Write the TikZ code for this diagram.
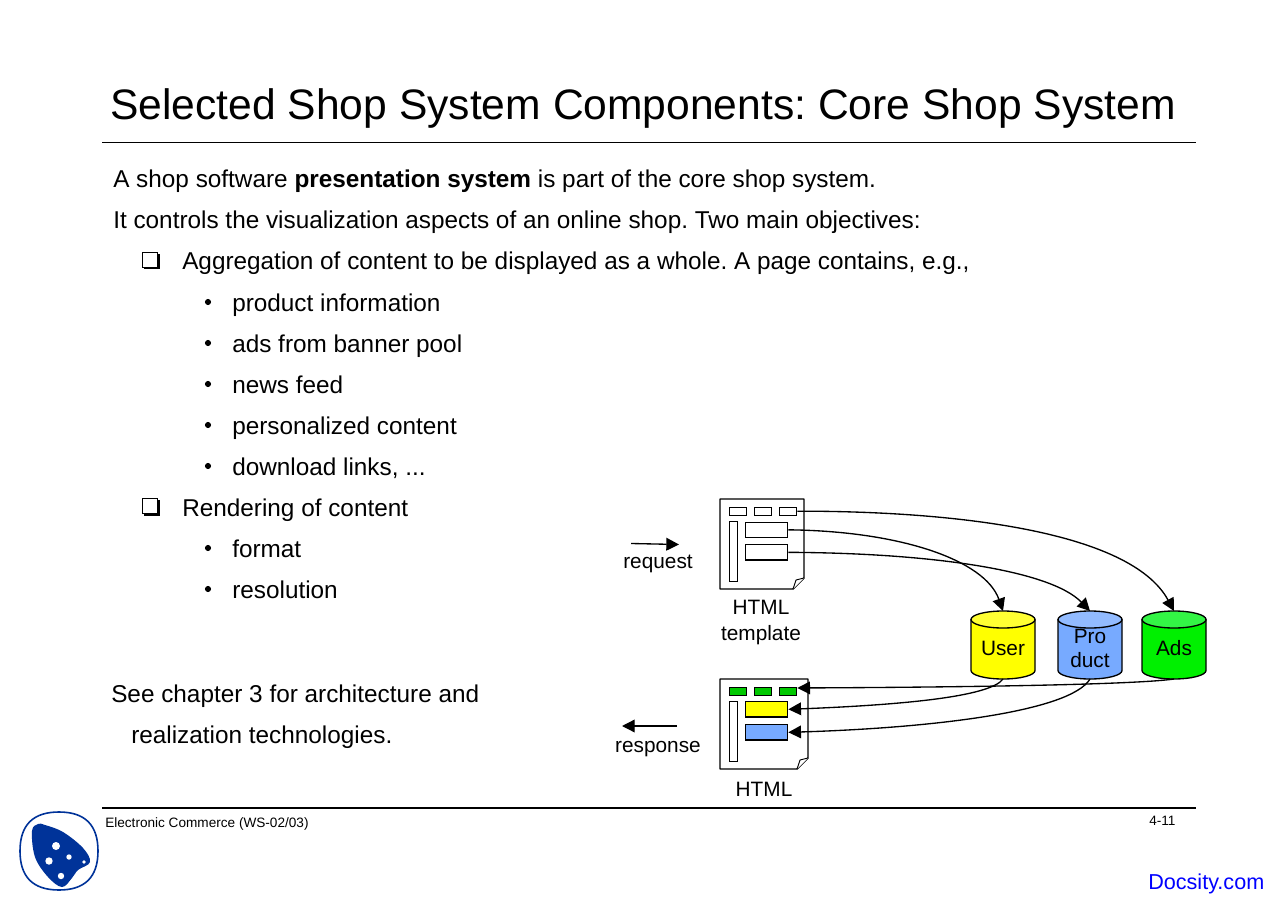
\documentclass[tikz,border=0pt]{standalone}
\usepackage{fontspec}
\setmainfont{Liberation Sans}
\usetikzlibrary{arrows.meta}
\definecolor{uyel}{HTML}{FFFF00}
\definecolor{uyeltop}{HTML}{FFFF33}
\definecolor{pblue}{HTML}{77AAFF}
\definecolor{pbluetop}{HTML}{92BBFF}
\definecolor{agreen}{HTML}{00F000}
\definecolor{agreentop}{HTML}{33F545}
\definecolor{sgreen}{HTML}{00C800}
\definecolor{logoblue}{HTML}{003399}
\tikzset{
  x=0.75pt,y=-0.75pt,
  txt/.style={anchor=base west,inner sep=0pt,font=\fontsize{18.25}{22}\selectfont},
  lbl/.style={anchor=base,inner sep=0pt,align=center,font=\fontsize{15.6}{18.8}\selectfont},
  foot/.style={anchor=base west,inner sep=0pt,font=\fontsize{10.2}{12}\selectfont},
  page/.style={draw=black,line width=1.1pt,fill=white,line join=round},
  cell/.style={draw=black,line width=1pt,fill=white,inner sep=0pt,minimum width=0pt,minimum height=0pt,anchor=north west},
  dbarea/.style={rectangle,inner sep=0pt,outer sep=0pt,minimum width=48pt,minimum height=51pt},
  dbtxt/.style={inner sep=0pt,align=center,yshift=-2.6pt,font=\fontsize{15.6}{18.8}\selectfont},
  dbline/.style={draw=black,line width=1pt,line join=round},
  link/.style={draw=black,line width=1pt,-{Triangle[length=9.5pt,width=9.5pt]}},
  sq/.style={draw=black,line width=0.5pt,fill=white,inner sep=0pt,minimum size=11pt},
  dot/.style={circle,fill=black,inner sep=0pt,minimum size=4.6pt},
}
% #1 name, #2 centre x, #3 body colour, #4 lid colour, #5 text
\newcommand{\dbcyl}[5]{%
  \path[dbline,fill=#3] (#2-32,619.5) -- (#2-32,670.5) .. controls (#2-32,675.2) and (#2-17.6,679) .. (#2,679)
     .. controls (#2+17.6,679) and (#2+32,675.2) .. (#2+32,670.5) -- (#2+32,619.5) -- cycle;
  \path[dbline,fill=#4] (#2-32,619.5) .. controls (#2-32,614.8) and (#2-17.6,611) .. (#2,611)
     .. controls (#2+17.6,611) and (#2+32,614.8) .. (#2+32,619.5)
     .. controls (#2+32,624.2) and (#2+17.6,628) .. (#2,628)
     .. controls (#2-17.6,628) and (#2-32,624.2) .. (#2-32,619.5) -- cycle;
  \node[dbarea,label={[dbtxt]center:#5}] (#1) at (#2,645) {};
}
\begin{document}
\frenchspacing
\begin{tikzpicture}
\useasboundingbox (0,0) rectangle (1280,905);
\fill[white] (0,0) rectangle (1280,905);
% title and rules
\node[anchor=base west,inner sep=0pt,font=\fontsize{31.95}{40}\selectfont] (title) at (110,120) {Selected Shop System Components: Core Shop System};
\coordinate (r1a) at (102,142.5); \coordinate (r1b) at (1196,142.5);
\draw[line width=1pt] (r1a) -- (r1b);
\coordinate (r2a) at (102,808); \coordinate (r2b) at (1196,808);
\draw[line width=1pt] (r2a) -- (r2b);
% body
\node[txt] (t1) at (113,188) {A shop software \textbf{presentation system} is part of the core shop system.};
\node[txt] (t2) at (113,229) {It controls the visualization aspects of an online shop. Two main objectives:};
\node[txt] (t3) at (182,270) {Aggregation of content to be displayed as a whole. A page contains, e.g.,};
\node[txt] (t4) at (232,311) {product information};
\node[txt] (t5) at (232,352) {ads from banner pool};
\node[txt] (t6) at (232,393) {news feed};
\node[txt] (t7) at (232,434) {personalized content};
\node[txt] (t8) at (232,475) {download links, ...};
\node[txt] (t9) at (182,516) {Rendering of content};
\node[txt] (t10) at (232,557) {format};
\node[txt] (t11) at (232,598) {resolution};
\node[txt] (t12) at (111,702) {See chapter 3 for architecture and};
\node[txt] (t13) at (131,743) {realization technologies.};
% check-box bullets
\foreach \n/\y in {a/261,b/507}{
  \fill (144,\y-7) rectangle (159.5,\y+8.5);
  \node[sq] (s\n) at (149.5,\y-1) {};
}
% small bullets
\foreach \n/\y in {4/302,5/343,6/384,7/425,8/466,10/548,11/589}{
  \node[dot] (b\n) at (208,\y) {};
}
% template document
\draw[page] (720,499) -- (804,499) -- (804,578) -- (793,589) -- (720,589) -- cycle;
\draw[line width=0.7pt,fill=white] (804,578) -- (796,580) -- (793,589);
\node[cell,minimum width=12.75pt,minimum height=6pt] (tc1) at (729,506.5) {};
\node[cell,minimum width=12.75pt,minimum height=6pt] (tc2) at (754,506.5) {};
\node[cell,minimum width=12.75pt,minimum height=6pt] (tc3) at (779,506.5) {};
\node[cell,minimum width=6pt,minimum height=45pt] (tside) at (729,521) {};
\node[cell,minimum width=31.5pt,minimum height=11.5pt] (tm1) at (745,521.5) {};
\node[cell,minimum width=31.5pt,minimum height=11.5pt] (tm2) at (745,544) {};
% result document
\draw[page] (720,679) -- (808,679) -- (808,758) -- (797,769) -- (720,769) -- cycle;
\draw[line width=0.7pt,fill=white] (808,758) -- (800,760) -- (797,769);
\node[cell,fill=sgreen,minimum width=12.75pt,minimum height=6pt] (hc1) at (729,686.5) {};
\node[cell,fill=sgreen,minimum width=12.75pt,minimum height=6pt] (hc2) at (754,686.5) {};
\node[cell,fill=sgreen,minimum width=12.75pt,minimum height=6pt] (hc3) at (779,686.5) {};
\node[cell,minimum width=6pt,minimum height=45pt] (hside) at (729,701) {};
\node[cell,fill=uyel,minimum width=31.5pt,minimum height=11.5pt] (hm1) at (745,701) {};
\node[cell,fill=pblue,minimum width=31.5pt,minimum height=11.5pt] (hm2) at (745,724) {};
% databases
\dbcyl{user}{1003}{uyel}{uyeltop}{User}
\dbcyl{prod}{1090}{pblue}{pbluetop}{Pro\\[-0.5pt]duct}
\dbcyl{ads}{1174}{agreen}{agreentop}{Ads}
% labels
\node[lbl] (lreq) at (658,568) {request};
\node[lbl] (lresp) at (658,752) {response};
\node[lbl] (ltpl) at (761,640) {HTML\\template};
\node[lbl] (lhtml) at (764,796) {HTML};
% request / response arrows
\coordinate (reqa) at (631,543.5); \coordinate (reqb) at (679,544.5);
\coordinate (respa) at (677,726); \coordinate (respb) at (622,726);
\draw[link] (reqa) -- (reqb);
\draw[link] (respa) -- (respb);
% connectors
\draw[link] (tc3.east) .. controls (950,511) and (1130,530) .. (ads.north);
\draw[link] (tm1.east) .. controls (900,531) and (985,560) .. (user.north);
\draw[link] (tm2.east) .. controls (930,553) and (1050,570) .. (prod.north);
\draw[link] (ads.south) .. controls (1140,684) and (1000,687) .. ([yshift=2.4pt]hc3.east);
\draw[link] (user.south) .. controls (990,697) and (900,705) .. (hm1.east);
\draw[link] (prod.south) .. controls (1070,712) and (930,728) .. (hm2.east);
% footer
\node[foot] (fl) at (105,827) {Electronic Commerce (WS-02/03)};
\node[foot] (fr) at (1149,825) {4-11};
\node[anchor=base west,inner sep=0pt,text=blue,font=\fontsize{16.2}{18}\selectfont] (doc) at (1148,889) {Docsity.com};
% logo
\draw[logoblue,line width=1.2pt] (59,812) .. controls (86,812) and (98,826) .. (98,851) .. controls (98,878) and (84,890) .. (59,890) .. controls (32,890) and (20,876) .. (20,851) .. controls (20,824) and (34,812) .. (59,812) -- cycle;
\fill[logoblue] plot[smooth cycle,tension=0.6] coordinates {(38,824) (32,831) (35,857) (48,877) (62,887) (72,878) (78,870) (90,862) (83,848) (63,832) (45,825)};
\fill[white] (56,846) circle (4);
\fill[white] (69,857) circle (2.7);
\fill[white] (49,861) circle (3.7);
\fill[white] (84,862) circle (1.8);
\fill[white] (61,876) circle (3.2);
\end{tikzpicture}
\end{document}
